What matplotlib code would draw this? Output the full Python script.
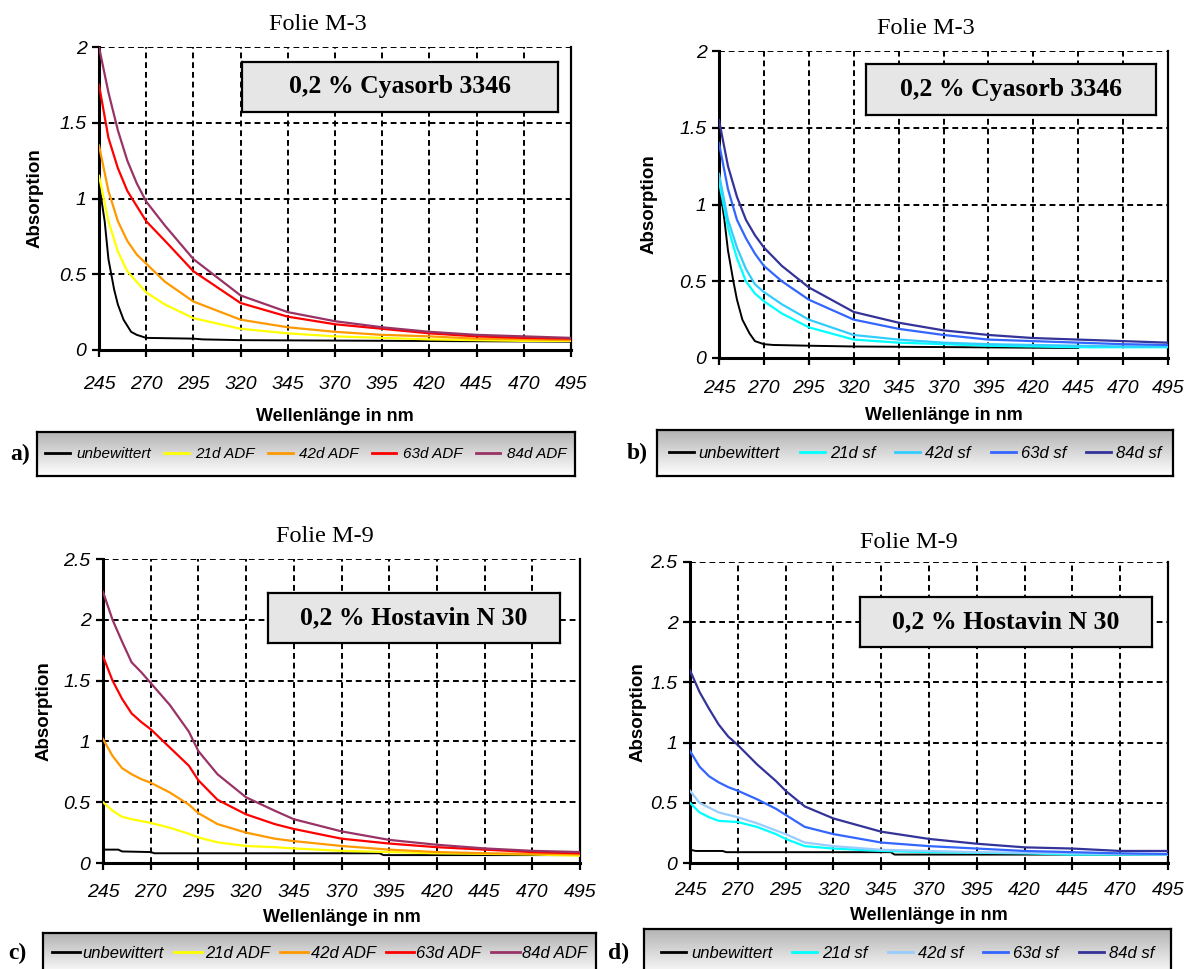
import numpy as np
import matplotlib
matplotlib.use("Agg")
import matplotlib.pyplot as plt
from matplotlib.lines import Line2D

# ---------------- data ----------------
xticks_vals = [245, 270, 295, 320, 345, 370, 395, 420, 445, 470, 495]

# Panel a: Folie M-3, ADF
a_unb_x = [245, 248, 250, 253, 255, 258, 262, 265, 270, 295, 300, 320, 495]
a_unb_y = [1.10, 0.85, 0.60, 0.40, 0.30, 0.20, 0.12, 0.10, 0.08, 0.075, 0.07, 0.065, 0.055]
a_x = [245, 250, 255, 260, 265, 270, 280, 295, 320, 345, 370, 395, 420, 445, 470, 495]
a_21 = [1.15, 0.85, 0.65, 0.52, 0.45, 0.38, 0.30, 0.21, 0.14, 0.11, 0.09, 0.08, 0.07, 0.065, 0.06, 0.06]
a_42 = [1.35, 1.05, 0.85, 0.72, 0.63, 0.57, 0.45, 0.32, 0.20, 0.15, 0.12, 0.10, 0.09, 0.075, 0.07, 0.065]
a_63 = [1.75, 1.40, 1.20, 1.05, 0.95, 0.85, 0.72, 0.52, 0.31, 0.22, 0.17, 0.14, 0.11, 0.09, 0.08, 0.075]
a_84 = [2.00, 1.70, 1.45, 1.25, 1.10, 0.98, 0.82, 0.60, 0.36, 0.25, 0.19, 0.15, 0.12, 0.10, 0.09, 0.08]

# Panel b: Folie M-3, sf
b_unb_x = [245, 248, 250, 253, 255, 258, 262, 265, 270, 275, 295, 320, 385, 445]
b_unb_y = [1.15, 0.90, 0.70, 0.50, 0.38, 0.25, 0.16, 0.11, 0.09, 0.085, 0.08, 0.075, 0.07, 0.065]
b_x = [245, 250, 255, 260, 265, 270, 280, 295, 320, 345, 370, 395, 420, 445, 470, 495]
b_21 = [1.15, 0.85, 0.65, 0.50, 0.42, 0.37, 0.29, 0.20, 0.12, 0.10, 0.09, 0.08, 0.075, 0.07, 0.07, 0.07]
b_42 = [1.20, 0.90, 0.72, 0.58, 0.48, 0.43, 0.35, 0.25, 0.15, 0.12, 0.10, 0.09, 0.085, 0.08, 0.075, 0.075]
b_63 = [1.40, 1.10, 0.90, 0.78, 0.68, 0.60, 0.50, 0.38, 0.25, 0.19, 0.15, 0.12, 0.11, 0.10, 0.09, 0.085]
b_84 = [1.55, 1.25, 1.05, 0.90, 0.80, 0.72, 0.60, 0.46, 0.30, 0.23, 0.18, 0.15, 0.13, 0.12, 0.11, 0.10]

# Panel c: Folie M-9, ADF
c_unb_x = [245, 253, 255, 270, 272, 390, 392, 495]
c_unb_y = [0.11, 0.11, 0.095, 0.09, 0.08, 0.08, 0.065, 0.065]
c_x = [245, 250, 255, 260, 265, 270, 280, 290, 295, 305, 320, 335, 345, 370, 395, 420, 445, 470, 495]
c_21 = [0.50, 0.43, 0.38, 0.36, 0.345, 0.33, 0.29, 0.24, 0.21, 0.17, 0.14, 0.13, 0.12, 0.10, 0.09, 0.08, 0.075, 0.07, 0.06]
c_42 = [1.02, 0.88, 0.78, 0.73, 0.69, 0.66, 0.58, 0.48, 0.41, 0.32, 0.25, 0.20, 0.18, 0.14, 0.11, 0.09, 0.08, 0.075, 0.07]
c_63 = [1.70, 1.50, 1.35, 1.23, 1.16, 1.10, 0.95, 0.80, 0.68, 0.52, 0.40, 0.32, 0.28, 0.20, 0.16, 0.13, 0.11, 0.09, 0.08]
c_84 = [2.23, 2.00, 1.82, 1.65, 1.57, 1.48, 1.30, 1.08, 0.92, 0.73, 0.54, 0.43, 0.36, 0.26, 0.19, 0.15, 0.12, 0.10, 0.09]

# Panel d: Folie M-9, sf
d_unb_x = [245, 248, 262, 264, 350, 352, 495]
d_unb_y = [0.11, 0.10, 0.10, 0.09, 0.09, 0.07, 0.07]
d_x = [245, 250, 255, 260, 265, 270, 280, 290, 295, 305, 320, 345, 370, 395, 420, 445, 470, 495]
d_21 = [0.50, 0.42, 0.38, 0.35, 0.345, 0.34, 0.30, 0.24, 0.20, 0.14, 0.12, 0.10, 0.09, 0.085, 0.08, 0.07, 0.07, 0.07]
d_42 = [0.60, 0.50, 0.46, 0.42, 0.40, 0.38, 0.33, 0.27, 0.24, 0.17, 0.14, 0.11, 0.10, 0.09, 0.085, 0.08, 0.075, 0.07]
d_63 = [0.93, 0.80, 0.72, 0.67, 0.63, 0.60, 0.53, 0.45, 0.40, 0.30, 0.24, 0.17, 0.14, 0.12, 0.10, 0.09, 0.08, 0.075]
d_84 = [1.60, 1.42, 1.28, 1.15, 1.05, 0.98, 0.82, 0.68, 0.60, 0.47, 0.37, 0.26, 0.20, 0.16, 0.13, 0.12, 0.10, 0.10]

adf_labels = ["unbewittert", "21d ADF", "42d ADF", "63d ADF", "84d ADF"]
sf_labels = ["unbewittert", "21d sf", "42d sf", "63d sf", "84d sf"]
adf_colors = ["#000000", "#FFFF00", "#FF9900", "#FF0000", "#993366"]
sf_colors_b = ["#000000", "#00FFFF", "#33CCFF", "#3366FF", "#333399"]
sf_colors_d = ["#000000", "#00FFFF", "#99CCFF", "#3366FF", "#333399"]

W, H = 1196, 969
fig = plt.figure(figsize=(W / 100, H / 100), dpi=100)
SANS = "Liberation Sans"
SERIF = "Liberation Serif"

def px_axes(l, t, r, b):
    return fig.add_axes([l / W, 1 - b / H, (r - l) / W, (b - t) / H])

def style_axes(ax, ymax, ystep, xpad, ylab_x, xlab_y):
    ax.set_xlim(245, 495)
    ax.set_ylim(0, ymax)
    ax.set_xticks(xticks_vals)
    yt = np.arange(0, ymax + 1e-9, ystep)
    ax.set_yticks(yt)
    ax.set_yticklabels([("%g" % v) for v in yt])
    ax.grid(True, color="black", linestyle=(0, (3, 2)), linewidth=1.4)
    ax.spines["left"].set_linewidth(2.2)
    ax.spines["bottom"].set_linewidth(2.2)
    ax.spines["top"].set_visible(False)
    ax.spines["right"].set_linewidth(1.6)
    ax.tick_params(axis="both", direction="out", length=5, width=1.6,
                   labelsize=14)
    ax.tick_params(axis="x", pad=xpad)
    ax.tick_params(axis="y", pad=4)
    for lab in ax.get_xticklabels() + ax.get_yticklabels():
        lab.set_fontstyle("italic")
        lab.set_fontfamily(SANS)
    ax.set_xlabel("Wellenlänge in nm", fontsize=13, fontweight="bold",
                  fontfamily=SANS, va="center")
    ax.set_ylabel("Absorption", fontsize=13.5, fontweight="bold",
                  fontfamily=SANS, va="center")
    ax.yaxis.set_label_coords(ylab_x, 0.5)
    ax.xaxis.set_label_coords(0.5, xlab_y)

def add_box(text, x0, y0, x1, y1):
    bax = fig.add_axes([x0 / W, 1 - y1 / H, (x1 - x0) / W, (y1 - y0) / H])
    bax.set_xticks([]); bax.set_yticks([])
    bax.set_facecolor("#E6E6E6")
    for s in bax.spines.values():
        s.set_linewidth(1.6)
    bax.text(0.5, 0.5, text, ha="center", va="center", fontsize=18.5,
             fontweight="bold", fontfamily=SERIF, transform=bax.transAxes)

def add_legend(labels, colors, x0, y0, x1, y1, tag, tagx, fs, hl, hp, cs, ty):
    lax = fig.add_axes([x0 / W, 1 - y1 / H, (x1 - x0) / W, (y1 - y0) / H])
    grad = np.linspace(0.70, 1.0, 64).reshape(-1, 1)
    lax.imshow(grad, cmap="gray", vmin=0, vmax=1, aspect="auto",
               extent=[0, 1, 0, 1], origin="upper")
    lax.set_xlim(0, 1); lax.set_ylim(0, 1)
    lax.set_xticks([]); lax.set_yticks([])
    for s in lax.spines.values():
        s.set_linewidth(1.6)
    handles = [Line2D([], [], color=c, linewidth=2) for c in colors]
    yc = 1 - (ty - y0) / (y1 - y0)
    lax.legend(handles, labels, ncol=5, loc="center",
               bbox_to_anchor=(0.5, yc), frameon=False,
               prop={"family": SANS, "style": "italic", "size": fs},
               handlelength=hl, handletextpad=hp, columnspacing=cs,
               borderpad=0.0, borderaxespad=0.0)
    fig.text(tagx / W, 1 - ty / H, tag, fontsize=17,
             fontweight="bold", fontfamily=SERIF, ha="left", va="center")

def draw_panel(rect, title, title_xy, ymax, ystep, unb_x, unb_y, xs, series,
               colors, box_text, box_rect, xpad, ylab_x, xlab_y):
    ax = px_axes(*rect)
    style_axes(ax, ymax, ystep, xpad, ylab_x, xlab_y)
    ax.plot(unb_x, unb_y, color=colors[0], linewidth=1.4, zorder=3)
    for ys, c in zip(series, colors[1:]):
        ax.plot(xs, ys, color=c, linewidth=1.6, zorder=3)
    fig.text(title_xy[0] / W, 1 - title_xy[1] / H, title, fontsize=17.5,
             fontfamily=SERIF, ha="center", va="center")
    add_box(box_text, *box_rect)
    return ax

# panel a
draw_panel((99, 47, 571, 350), "Folie M-3", (318, 24), 2.0, 0.5,
           a_unb_x, a_unb_y, a_x, [a_21, a_42, a_63, a_84], adf_colors,
           "0,2 % Cyasorb 3346", (242, 62, 558, 112), 14, -0.136, -0.218)
# panel b
draw_panel((719, 51, 1168, 358), "Folie M-3", (926, 28), 2.0, 0.5,
           b_unb_x, b_unb_y, b_x, [b_21, b_42, b_63, b_84], sf_colors_b,
           "0,2 % Cyasorb 3346", (866, 64, 1156, 115), 11, -0.156, -0.186)
# panel c
draw_panel((103, 559, 580, 863), "Folie M-9", (325, 537), 2.5, 0.5,
           c_unb_x, c_unb_y, c_x, [c_21, c_42, c_63, c_84], adf_colors,
           "0,2 % Hostavin N 30", (268, 593, 560, 643), 10, -0.124, -0.178)
# panel d
draw_panel((690, 562, 1168, 863), "Folie M-9", (909, 542), 2.5, 0.5,
           d_unb_x, d_unb_y, d_x, [d_21, d_42, d_63, d_84], sf_colors_d,
           "0,2 % Hostavin N 30", (860, 597, 1152, 647), 9, -0.109, -0.173)

add_legend(adf_labels, adf_colors, 37, 432, 575, 476, "a)", 10, 11, 1.6, 0.45, 0.85, 454)
add_legend(sf_labels, sf_colors_b, 657, 430, 1173, 476, "b)", 627, 12, 1.5, 0.3, 1.2, 453)
add_legend(adf_labels, adf_colors, 43, 933, 596, 975, "c)", 8, 12, 1.7, 0.15, 0.6, 953)
add_legend(sf_labels, sf_colors_d, 644, 929, 1171, 977, "d)", 608, 12, 1.5, 0.3, 1.2, 953)

fig.savefig("out.png", dpi=100)
